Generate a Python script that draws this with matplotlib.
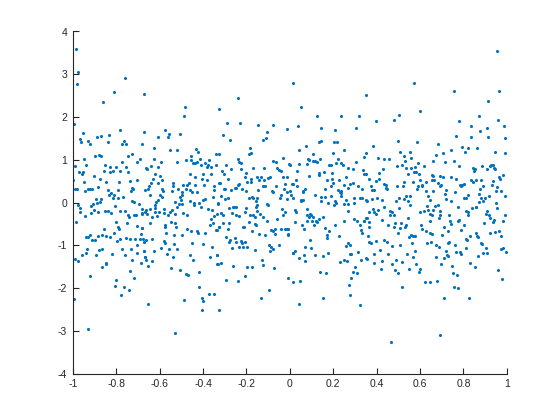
import numpy as np
import matplotlib
matplotlib.use("Agg")
import matplotlib.pyplot as plt

# (x, y) pairs, grouped by region of the plot
left_upper = [
    (-0.983, 3.59), (-0.975, 3.05), (-0.98, 2.78), (-0.758, 2.91), (-0.812, 2.59), (-0.861, 2.36),
    (-0.674, 2.53), (-0.995, 1.84), (-0.784, 1.70), (-0.671, 1.66), (-0.953, 1.63), (-0.965, 1.49),
    (-0.888, 1.54), (-0.87, 1.55), (-0.832, 1.59), (-0.928, 1.44), (-0.962, 1.41), (-0.922, 1.38),
    (-0.839, 1.42), (-0.766, 1.44), (-0.775, 1.36), (-0.754, 1.38), (-0.683, 1.36), (-0.9, 1.10),
    (-0.879, 1.12), (-0.87, 1.10), (-0.744, 1.10), (-0.726, 1.13), (-0.949, 1.03), (-0.692, 1.02),
    (-0.702, 0.96), (-0.992, 0.86), (-0.937, 0.89), (-0.852, 0.89), (-0.80, 0.84), (-0.827, 0.83),
    (-0.772, 0.96), (-0.757, 0.83), (-0.662, 0.80), (-0.971, 0.72), (-0.953, 0.72), (-0.959, 0.67),
    (-0.858, 0.74), (-0.827, 0.71), (-0.815, 0.73), (-0.784, 0.74), (-0.744, 0.71), (-0.904, 0.63),
    (-0.998, 0.53), (-0.876, 0.55), (-0.949, 0.49), (-0.845, 0.49), (-0.787, 0.49), (-0.735, 0.50),
    (-0.705, 0.52), (-0.885, 0.36), (-0.729, 0.35), (-0.989, 0.31), (-0.98, 0.33), (-0.928, 0.31),
    (-0.919, 0.31), (-0.91, 0.31), (-0.943, 0.28), (-0.668, 0.30), (-0.836, 0.30), (-0.824, 0.22),
    (-0.833, 0.18), (-0.809, 0.18), (-0.79, 0.30), (-0.732, 0.27), (-0.723, 0.33), (-0.894, 0.08),
    (-0.87, 0.08), (-0.876, 0.02), (-0.888, -0.01), (-0.907, -0.04), (-0.815, 0.10), (-0.793, 0.10),
    (-0.769, 0.13), (-0.729, 0.03), (-0.717, 0.02), (-0.695, -0.04), (-0.974, -0.06), (-0.806, -0.07),
    (-0.916, -0.07),
]
left_lower = [
    (-0.968, -0.13), (-0.968, -0.22), (-0.943, -0.31), (-0.916, -0.25), (-0.904, -0.17), (-0.882, -0.23),
    (-0.852, -0.19), (-0.839, -0.19), (-0.824, -0.25), (-0.781, -0.20), (-0.759, -0.20), (-0.747, -0.28),
    (-0.741, -0.33), (-0.717, -0.28), (-0.708, -0.30), (-0.683, -0.25), (-0.668, -0.22), (-0.986, -0.45),
    (-0.803, -0.45), (-0.793, -0.56), (-0.787, -0.62), (-0.75, -0.48), (-0.705, -0.55), (-0.683, -0.59),
    (-0.94, -0.80), (-0.931, -0.81), (-0.922, -0.76), (-0.91, -0.87), (-0.897, -0.87), (-0.885, -0.78),
    (-0.867, -0.75), (-0.858, -0.62), (-0.848, -0.78), (-0.83, -0.81), (-0.809, -0.70), (-0.796, -0.90),
    (-0.781, -0.86), (-0.754, -0.83), (-0.735, -0.86), (-0.714, -0.84), (-0.705, -0.98), (-0.689, -0.84),
    (-0.674, -0.92), (-0.934, -1.08), (-0.937, -1.17), (-0.956, -1.22), (-0.891, -1.22), (-0.879, -1.11),
    (-0.864, -1.08), (-0.818, -1.19), (-0.772, -1.09), (-0.76, -1.22), (-0.732, -1.09), (-0.705, -1.17),
    (-0.674, -1.12), (-0.668, -1.26), (-0.992, -1.31), (-0.977, -1.36), (-0.848, -1.40), (-0.845, -1.44),
    (-0.867, -1.50), (-0.726, -1.34), (-0.686, -1.40), (-0.735, -1.59), (-0.922, -1.72), (-0.803, -1.81),
    (-0.717, -1.76), (-0.806, -1.95), (-0.766, -1.98), (-0.741, -2.04), (-0.778, -2.15), (-0.995, -2.26),
    (-0.931, -2.95),
]
midleft_upper = [
    (-0.481, 2.23), (-0.487, 2.03), (-0.328, 2.19), (-0.576, 1.69), (-0.557, 1.61), (-0.563, 1.53),
    (-0.606, 1.53), (-0.505, 1.61), (-0.625, 1.27), (-0.554, 1.24), (-0.521, 1.24), (-0.432, 1.25),
    (-0.423, 1.19), (-0.34, 1.14), (-0.325, 1.14), (-0.628, 1.03), (-0.456, 1.08), (-0.453, 1.00),
    (-0.413, 1.02), (-0.374, 1.00), (-0.478, 1.00), (-0.518, 0.94), (-0.594, 0.95), (-0.64, 0.86),
    (-0.658, 0.78), (-0.609, 0.83), (-0.444, 0.92), (-0.435, 0.92), (-0.429, 0.94), (-0.41, 0.88),
    (-0.389, 0.92), (-0.377, 0.89), (-0.383, 0.83), (-0.361, 0.83), (-0.34, 0.89), (-0.622, 0.66),
    (-0.60, 0.63), (-0.462, 0.66), (-0.435, 0.60), (-0.398, 0.67), (-0.365, 0.66), (-0.404, 0.56),
    (-0.38, 0.53), (-0.64, 0.46), (-0.631, 0.55), (-0.606, 0.47), (-0.588, 0.52), (-0.539, 0.46),
    (-0.539, 0.39), (-0.493, 0.42), (-0.465, 0.47), (-0.472, 0.42), (-0.435, 0.41), (-0.395, 0.42),
    (-0.349, 0.39), (-0.655, 0.33), (-0.649, 0.39), (-0.591, 0.31), (-0.585, 0.27), (-0.545, 0.27),
    (-0.515, 0.33), (-0.496, 0.25), (-0.478, 0.33), (-0.459, 0.30), (-0.45, 0.25), (-0.429, 0.25),
    (-0.349, 0.30), (-0.643, 0.17), (-0.597, 0.17), (-0.591, 0.13), (-0.508, 0.14), (-0.499, 0.19),
    (-0.502, 0.06), (-0.496, -0.03), (-0.511, -0.03), (-0.527, 0.02), (-0.615, 0.02), (-0.609, 0.06),
    (-0.622, -0.06), (-0.462, 0.05), (-0.441, 0.00), (-0.441, -0.06), (-0.42, -0.01), (-0.401, 0.06),
    (-0.389, 0.08), (-0.355, 0.13), (-0.331, -0.03), (-0.328, 0.46),
]
midleft_lower = [
    (-0.68, -0.16), (-0.683, -0.27), (-0.661, -0.17), (-0.658, -0.27), (-0.646, -0.14), (-0.634, -0.33),
    (-0.622, -0.13), (-0.619, -0.22), (-0.612, -0.31), (-0.603, -0.22), (-0.582, -0.16), (-0.579, -0.25),
    (-0.563, -0.28), (-0.554, -0.23), (-0.545, -0.17), (-0.53, -0.27), (-0.518, -0.11), (-0.49, -0.25),
    (-0.475, -0.30), (-0.41, -0.09), (-0.377, -0.14), (-0.358, -0.17), (-0.349, -0.31), (-0.334, -0.27),
    (-0.643, -0.48), (-0.573, -0.52), (-0.576, -0.58), (-0.548, -0.45), (-0.527, -0.48), (-0.524, -0.58),
    (-0.68, -0.59), (-0.687, -0.73), (-0.677, -0.86), (-0.664, -0.87), (-0.634, -0.86), (-0.57, -0.72),
    (-0.533, -0.75), (-0.499, -0.75), (-0.475, -0.61), (-0.453, -0.67), (-0.426, -0.67), (-0.423, -0.70),
    (-0.389, -0.70), (-0.368, -0.52), (-0.361, -0.39), (-0.355, -0.48), (-0.34, -0.64), (-0.328, -0.56),
    (-0.582, -0.89), (-0.576, -0.94), (-0.594, -1.05), (-0.557, -1.08), (-0.533, -0.97), (-0.518, -1.08),
    (-0.674, -1.12), (-0.625, -1.14), (-0.567, -1.19), (-0.45, -0.95), (-0.398, -0.97), (-0.358, -1.03),
    (-0.337, -1.22), (-0.462, -1.22), (-0.447, -1.34), (-0.368, -1.28), (-0.668, -1.28), (-0.661, -1.34),
    (-0.637, -1.37), (-0.655, -1.47), (-0.536, -1.26), (-0.334, -1.44), (-0.548, -1.53), (-0.508, -1.58),
    (-0.478, -1.67), (-0.469, -1.69), (-0.42, -1.62), (-0.417, -1.97), (-0.404, -2.22), (-0.401, -2.31),
    (-0.371, -2.14), (-0.349, -2.14), (-0.487, -2.28), (-0.404, -2.50), (-0.325, -2.51), (-0.655, -2.36),
    (-0.527, -3.04),
]
centre_left_upper = [
    (0.013, 2.80), (-0.238, 2.44), (-0.29, 1.86), (-0.229, 1.87), (-0.147, 1.81), (-0.076, 1.81),
    (-0.012, 1.73), (-0.309, 1.58), (-0.275, 1.47), (-0.104, 1.64), (-0.11, 1.52), (-0.122, 1.47),
    (-0.183, 1.27), (-0.177, 1.17), (-0.186, 1.13), (-0.241, 1.03), (-0.235, 0.96), (-0.226, 0.92),
    (-0.296, 0.88), (-0.312, 0.74), (-0.303, 0.67), (-0.269, 0.78), (-0.223, 0.78), (-0.202, 0.69),
    (-0.284, 0.56), (-0.205, 0.60), (-0.168, 0.82), (-0.119, 0.82), (-0.079, 0.97), (-0.064, 0.94),
    (-0.03, 1.05), (-0.058, 0.81), (-0.052, 0.77), (-0.042, 0.75), (-0.003, 0.91), (0.003, 0.89),
    (-0.015, 0.60), (-0.033, 0.60), (-0.064, 0.39), (-0.15, 0.61), (-0.134, 0.60), (-0.119, 0.53),
    (-0.101, 0.58), (-0.091, 0.61), (-0.18, 0.56), (-0.195, 0.49), (-0.18, 0.49), (-0.143, 0.52),
    (-0.232, 0.44), (-0.241, 0.41), (-0.254, 0.35), (-0.247, 0.35), (-0.22, 0.32), (-0.321, 0.46),
    (-0.303, 0.31), (-0.297, 0.31), (-0.272, 0.30), (-0.202, 0.27), (-0.146, 0.30), (-0.122, 0.39),
    (-0.113, 0.39), (-0.076, 0.24), (-0.082, 0.27), (-0.021, 0.44), (0.013, 0.44), (-0.027, 0.31),
    (-0.015, 0.25), (0.003, 0.28), (-0.039, 0.17), (-0.046, 0.10), (-0.015, 0.08), (0.006, 0.17),
    (0.013, 0.10), (-0.315, 0.16), (-0.299, 0.08), (-0.284, 0.11), (-0.189, 0.11), (-0.174, 0.14),
    (-0.171, 0.10), (-0.156, 0.03), (-0.149, 0.11), (-0.153, -0.06), (-0.107, -0.03), (-0.101, -0.06),
    (-0.33, -0.01), (-0.257, -0.09),
]
centre_left_lower = [
    (-0.156, -0.09), (-0.318, -0.25), (-0.309, -0.28), (-0.278, -0.13), (-0.26, -0.11), (-0.25, -0.11),
    (-0.266, -0.25), (-0.247, -0.30), (-0.235, -0.31), (-0.208, -0.22), (-0.202, -0.13), (-0.183, -0.30),
    (-0.168, -0.30), (-0.162, -0.33), (-0.153, -0.19), (-0.137, -0.27), (-0.122, -0.33), (-0.036, -0.14),
    (-0.024, -0.23), (-0.033, -0.30), (-0.306, -0.48), (-0.281, -0.47), (-0.287, -0.62), (-0.327, -0.56),
    (-0.336, -0.64), (-0.217, -0.58), (-0.211, -0.58), (-0.189, -0.45), (-0.162, -0.50), (-0.156, -0.53),
    (-0.174, -0.67), (-0.14, -0.73), (-0.113, -0.75), (-0.104, -0.44), (-0.085, -0.64), (-0.076, -0.67),
    (-0.067, -0.61), (-0.07, -0.73), (-0.058, -0.39), (-0.042, -0.62), (-0.021, -0.62), (-0.012, -0.62),
    (-0.009, -0.75), (-0.293, -0.80), (-0.275, -0.87), (-0.281, -0.92), (-0.254, -0.83), (-0.25, -0.92),
    (-0.226, -0.89), (-0.22, -0.94), (-0.208, -0.92), (-0.266, -1.06), (-0.232, -1.03), (-0.214, -1.03),
    (-0.195, -1.03), (-0.162, -1.11), (-0.094, -0.98), (-0.085, -1.03), (-0.091, -1.12), (-0.076, -1.08),
    (-0.049, -0.98), (-0.336, -1.22), (-0.333, -1.44), (-0.318, -1.40), (-0.26, -1.48), (-0.195, -1.50),
    (-0.174, -1.50), (-0.128, -1.34), (-0.125, -1.45), (-0.073, -1.53), (0.013, -1.17), (-0.208, -1.72),
    (-0.293, -1.81), (-0.241, -1.84), (-0.006, -1.76), (-0.097, -2.04), (-0.131, -2.22), (0.016, -1.86),
]
centre_right_upper = [
    (0.35, 2.52), (0.053, 2.23), (0.127, 2.02), (0.237, 2.03), (0.319, 2.03), (0.038, 1.78),
    (0.145, 1.75), (0.209, 1.70), (0.304, 1.75), (0.075, 1.33), (0.136, 1.42), (0.142, 1.45),
    (0.203, 1.41), (0.218, 1.41), (0.252, 1.22), (0.041, 1.22), (0.108, 1.14), (0.197, 1.17),
    (0.35, 1.16), (0.344, 1.06), (0.084, 1.02), (0.09, 1.00), (0.105, 0.97), (0.114, 0.97),
    (0.124, 0.96), (0.139, 1.03), (0.222, 1.03), (0.044, 0.91), (0.081, 0.91), (0.182, 0.88),
    (0.191, 0.89), (0.215, 0.92), (0.237, 0.92), (0.243, 0.88), (0.304, 0.96), (0.292, 0.78),
    (0.267, 0.81), (0.338, 0.77), (0.344, 0.66), (0.35, 0.67), (0.035, 0.75), (0.136, 0.69),
    (0.133, 0.64), (0.157, 0.72), (0.194, 0.69), (0.09, 0.63), (0.029, 0.53), (0.172, 0.52),
    (0.194, 0.55), (0.2, 0.47), (0.225, 0.52), (0.261, 0.61), (0.249, 0.41), (0.276, 0.44),
    (0.292, 0.47), (0.01, 0.44), (0.035, 0.39), (0.16, 0.32), (0.188, 0.39), (0.222, 0.30),
    (0.231, 0.25), (0.237, 0.27), (0.267, 0.35), (0.313, 0.38), (0.332, 0.32), (0.062, 0.27),
    (0.068, 0.32), (0.059, 0.24), (0.117, 0.17), (0.05, 0.06), (0.053, 0.03), (0.062, 0.06),
    (0.145, 0.14), (0.163, 0.14), (0.145, 0.05), (0.176, -0.01), (0.188, 0.16), (0.206, 0.05),
    (0.212, 0.00), (0.234, 0.16), (0.237, 0.22), (0.261, 0.06), (0.295, 0.10), (0.298, -0.01),
    (0.325, 0.10), (0.335, 0.11), (0.353, 0.06), (0.252, -0.04), (0.27, -0.04), (0.203, -0.06),
]
centre_right_lower = [
    (0.026, -0.17), (0.029, -0.22), (0.078, -0.14), (0.081, -0.30), (0.087, -0.33), (0.093, -0.27),
    (0.099, -0.28), (0.105, -0.33), (0.121, -0.42), (0.124, -0.45), (0.133, -0.38), (0.154, -0.33),
    (0.026, -0.45), (0.056, -0.52), (0.065, -0.61), (0.078, -0.42), (0.102, -0.42), (0.111, -0.53),
    (-0.008, -0.62), (-0.008, -0.73), (0.163, -0.59), (0.182, -0.67), (0.17, -0.75), (0.172, -0.83),
    (0.209, -0.52), (0.225, -0.78), (0.252, -0.42), (0.267, -0.19), (0.298, -0.39), (0.31, -0.44),
    (0.322, -0.52), (0.329, -0.64), (0.335, -0.72), (0.344, -0.42), (0.353, -0.37), (0.093, -0.87),
    (0.071, -1.03), (0.096, -1.06), (0.016, -1.17), (0.023, -1.14), (0.041, -1.30), (0.065, -1.23),
    (0.071, -1.36), (0.117, -1.22), (0.151, -1.25), (0.176, -1.17), (0.258, -1.01), (0.267, -0.95),
    (0.279, -1.00), (0.283, -1.19), (0.277, -1.20), (0.249, -1.33), (0.264, -1.37), (0.231, -1.39),
    (0.316, -1.16), (0.326, -1.34), (0.353, -1.30), (0.301, -1.50), (0.289, -1.61), (0.31, -1.64),
    (0.139, -1.62), (0.166, -1.65), (0.283, -1.75), (0.047, -1.84), (0.274, -1.92), (0.277, -2.15),
    (0.154, -2.22), (0.044, -2.36), (0.322, -2.39),
]
midright_upper = [
    (0.571, 2.80), (0.598, 2.14), (0.503, 2.05), (0.479, 1.94), (0.399, 1.91), (0.50, 1.45),
    (0.586, 1.41), (0.681, 1.38), (0.384, 1.33), (0.51, 1.19), (0.555, 1.19), (0.528, 1.08),
    (0.558, 1.05), (0.405, 1.05), (0.436, 1.03), (0.457, 1.03), (0.675, 1.11), (0.531, 0.97),
    (0.659, 0.97), (0.516, 0.89), (0.494, 0.86), (0.592, 0.92), (0.62, 0.86), (0.534, 0.81),
    (0.558, 0.81), (0.577, 0.83), (0.43, 0.78), (0.412, 0.69), (0.571, 0.72), (0.58, 0.72),
    (0.543, 0.66), (0.595, 0.66), (0.653, 0.64), (0.662, 0.63), (0.693, 0.63), (0.412, 0.55),
    (0.366, 0.55), (0.396, 0.50), (0.525, 0.49), (0.568, 0.49), (0.601, 0.53), (0.629, 0.49),
    (0.656, 0.53), (0.666, 0.53), (0.684, 0.46), (0.433, 0.44), (0.375, 0.39), (0.442, 0.41),
    (0.442, 0.35), (0.448, 0.31), (0.494, 0.39), (0.522, 0.39), (0.589, 0.39), (0.61, 0.38),
    (0.607, 0.41), (0.693, 0.39), (0.378, 0.30), (0.39, 0.30), (0.586, 0.31), (0.626, 0.27),
    (0.662, 0.27), (0.537, 0.16), (0.552, 0.16), (0.503, 0.11), (0.525, 0.08), (0.546, 0.03),
    (0.635, 0.16), (0.644, 0.06), (0.356, 0.05), (0.381, 0.08), (0.402, 0.11), (0.424, 0.06),
    (0.491, 0.03), (0.555, -0.06), (0.433, -0.09), (0.632, -0.07), (0.668, -0.07), (0.681, -0.06),
]
midright_lower = [
    (0.366, -0.22), (0.384, -0.14), (0.39, -0.23), (0.399, -0.27), (0.408, -0.17), (0.461, -0.19),
    (0.464, -0.28), (0.473, -0.23), (0.479, -0.30), (0.503, -0.13), (0.543, -0.36), (0.601, -0.22),
    (0.62, -0.19), (0.635, -0.17), (0.644, -0.27), (0.659, -0.17), (0.693, -0.20), (0.653, -0.30),
    (0.341, -0.44), (0.356, -0.37), (0.363, -0.45), (0.363, -0.56), (0.424, -0.41), (0.451, -0.52),
    (0.485, -0.48), (0.482, -0.58), (0.513, -0.48), (0.537, -0.52), (0.531, -0.58), (0.51, -0.59),
    (0.497, -0.72), (0.549, -0.81), (0.558, -0.75), (0.568, -0.78), (0.577, -0.78), (0.604, -0.52),
    (0.61, -0.61), (0.626, -0.66), (0.644, -0.72), (0.656, -0.73), (0.647, -0.42), (0.36, -0.77),
    (0.366, -0.91), (0.375, -0.95), (0.399, -0.89), (0.436, -0.87), (0.448, -0.91), (0.47, -1.01),
    (0.506, -0.98), (0.561, -0.94), (0.632, -0.94), (0.65, -0.92), (0.675, -0.98), (0.687, -1.03),
    (0.415, -1.11), (0.387, -1.19), (0.54, -1.20), (0.577, -1.14), (0.454, -1.20), (0.568, -1.28),
    (0.356, -1.31), (0.672, -1.28), (0.39, -1.40), (0.427, -1.36), (0.473, -1.44), (0.491, -1.34),
    (0.516, -1.39), (0.58, -1.44), (0.699, -1.44), (0.418, -1.56), (0.485, -1.58), (0.497, -1.64),
    (0.549, -1.56), (0.595, -1.61), (0.601, -1.56), (0.623, -1.86), (0.644, -1.86), (0.678, -1.83),
    (0.516, -1.97), (0.69, -3.09), (0.467, -3.25),
]
right_upper = [
    (0.954, 3.54), (0.755, 2.61), (0.966, 2.62), (0.914, 2.37), (0.871, 2.02), (0.782, 1.91),
    (0.837, 1.80), (0.96, 1.92), (0.908, 1.75), (0.987, 1.78), (0.877, 1.67), (0.767, 1.56),
    (0.837, 1.53), (0.914, 1.53), (0.99, 1.52), (0.742, 1.24), (0.794, 1.31), (0.819, 1.27),
    (0.807, 1.19), (0.862, 1.28), (0.944, 1.19), (0.993, 1.16), (0.706, 1.16), (0.758, 0.97),
    (0.715, 0.94), (0.779, 0.85), (0.843, 0.81), (0.853, 0.78), (0.85, 0.75), (0.886, 0.86),
    (0.908, 0.78), (0.923, 0.85), (0.929, 0.88), (0.935, 0.89), (0.941, 0.80), (0.947, 0.78),
    (0.984, 0.64), (0.706, 0.60), (0.745, 0.60), (0.767, 0.55), (0.963, 0.60), (0.969, 0.55),
    (0.697, 0.41), (0.785, 0.41), (0.794, 0.41), (0.791, 0.38), (0.801, 0.44), (0.834, 0.52),
    (0.846, 0.49), (0.856, 0.53), (0.883, 0.53), (0.935, 0.50), (0.932, 0.42), (0.954, 0.36),
    (0.877, 0.31), (0.951, 0.28), (0.972, 0.28), (0.721, 0.30), (0.761, 0.25), (0.715, 0.21),
    (0.819, 0.17), (0.81, 0.11), (0.801, 0.10), (0.871, 0.21), (0.889, 0.38), (0.917, 0.16),
    (0.99, 0.16), (0.718, 0.08), (0.745, 0.05), (0.88, 0.11), (0.898, 0.10), (0.892, 0.03),
    (0.874, 0.02), (0.951, -0.01), (0.773, -0.09), (0.856, -0.09),
]
right_lower = [
    (0.693, -0.30), (0.733, -0.28), (0.739, -0.42), (0.742, -0.50), (0.687, -0.36), (0.813, -0.19),
    (0.822, -0.23), (0.819, -0.28), (0.84, -0.12), (0.859, -0.09), (0.956, -0.13), (0.908, -0.20),
    (0.902, -0.27), (0.92, -0.28), (0.923, -0.36), (0.941, -0.41), (0.935, -0.45), (0.99, -0.30),
    (0.981, -0.44), (0.773, -0.44), (0.782, -0.41), (0.791, -0.64), (0.801, -0.52), (0.712, -0.58),
    (0.727, -0.67), (0.703, -0.75), (0.895, -0.47), (0.923, -0.70), (0.944, -0.69), (0.966, -0.66),
    (0.972, -0.78), (0.831, -0.78), (0.859, -0.70), (0.862, -0.77), (0.868, -0.81), (0.81, -0.86),
    (0.816, -0.87), (0.727, -0.94), (0.733, -0.91), (0.761, -0.98), (0.88, -0.95), (0.886, -0.97),
    (0.905, -1.05), (0.81, -1.05), (0.718, -1.14), (0.764, -1.16), (0.785, -1.16), (0.791, -1.19),
    (0.892, -1.17), (0.911, -1.17), (0.975, -1.08), (0.981, -1.06), (0.996, -1.16), (0.724, -1.22),
    (0.73, -1.25), (0.709, -1.30), (0.865, -1.25), (0.831, -1.40), (0.853, -1.50), (0.749, -1.48),
    (0.96, -1.58), (0.752, -1.64), (0.77, -1.70), (0.978, -1.78), (0.755, -1.98), (0.776, -2.00),
    (0.709, -2.22), (0.828, -2.22),
]

x_ticks = [-1, -0.8, -0.6, -0.4, -0.2, 0, 0.2, 0.4, 0.6, 0.8, 1]
x_labels = ["-1", "-0.8", "-0.6", "-0.4", "-0.2", "0", "0.2", "0.4", "0.6", "0.8", "1"]
y_ticks = [-4, -3, -2, -1, 0, 1, 2, 3, 4]


def main():
    plt.rcParams["font.family"] = ["Liberation Sans", "DejaVu Sans"]
    plt.rcParams["axes.unicode_minus"] = False
    groups = [left_upper, left_lower, midleft_upper, midleft_lower,
              centre_left_upper, centre_left_lower, centre_right_upper, centre_right_lower,
              midright_upper, midright_lower, right_upper, right_lower]
    pts = np.array([p for g in groups for p in g])

    fig = plt.figure(figsize=(5.6, 4.2), dpi=100)
    ax = fig.add_axes([0.13, 0.11, 0.775, 0.815])
    ax.scatter(pts[:, 0], pts[:, 1], s=5, c="#0072BD", linewidths=0)

    ax.set_xlim(-1, 1)
    ax.set_ylim(-4, 4)
    ax.set_xticks(x_ticks)
    ax.set_xticklabels(x_labels)
    ax.set_yticks(y_ticks)
    for side in ["top", "right"]:
        ax.spines[side].set_visible(False)
    for side in ["left", "bottom"]:
        ax.spines[side].set_color("#262626")
        ax.spines[side].set_linewidth(0.8)
    ax.tick_params(direction="in", length=4, width=0.8, colors="#262626",
                   labelsize=7.5, pad=4)
    fig.savefig("out.png", dpi=100)
    plt.close(fig)


if __name__ == "__main__":
    main()
